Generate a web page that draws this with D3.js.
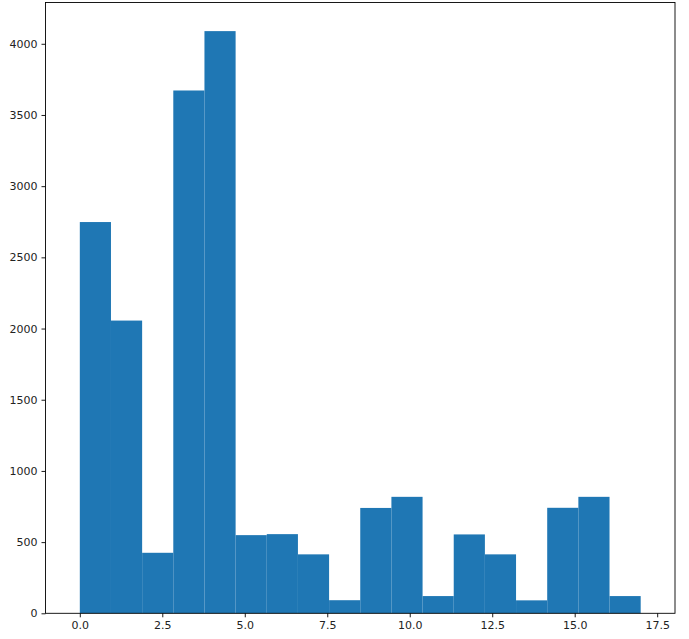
<!DOCTYPE html>
<html>
<head>
<meta charset="utf-8">
<script src="https://cdn.jsdelivr.net/npm/d3@7"></script>
<style>
    body { margin: 0; background: #fff; }
    text { font-family: "DejaVu Sans", sans-serif; }
</style>
</head>
<body>
<div id="chart-area"></div>
<script>
// histogram: 18 bins between 0 and 17
var binStart = 0;
var binEnd = 17;
var counts = [2748, 2056, 425, 3672, 4089, 549, 556, 414, 92, 740, 818, 121, 554, 414, 91, 741, 818, 121];
var xTicks = [0, 2.5, 5, 7.5, 10, 12.5, 15, 17.5];
var yTicks = [0, 500, 1000, 1500, 2000, 2500, 3000, 3500, 4000];

var W = 689;
var H = 639;
// note: "top" is window.top, so plot edges get their own names
var plotLeft = 45.5, plotRight = 675, plotTop = 2.5, plotBottom = 613.3;

var svg = d3.select("#chart-area")
    .append("svg")
    .attr("width", W)
    .attr("height", H);

var x = d3.scaleLinear()
    .domain([-1.04, 18.04])
    .range([plotLeft, plotRight]);

var y = d3.scaleLinear()
    .domain([0, 4290])
    .range([plotBottom, plotTop]);

var binW = (binEnd - binStart) / counts.length;
var bins = counts.map(function(c, i) {
    return { x0: binStart + i * binW, x1: binStart + (i + 1) * binW, count: c };
});

svg.selectAll("rect.bar")
    .data(bins)
    .enter()
    .append("rect")
    .attr("class", "bar")
    .attr("x", function(d) { return x(d.x0); })
    .attr("width", function(d) { return x(d.x1) - x(d.x0); })
    .attr("y", function(d) { return y(d.count); })
    .attr("height", function(d) { return y(0) - y(d.count); })
    .attr("fill", "#1f77b4");

var xAxisCall = d3.axisBottom(x)
    .tickValues(xTicks)
    .tickFormat(d3.format(".1f"))
    .tickSize(4)
    .tickPadding(4);

var yAxisCall = d3.axisLeft(y)
    .tickValues(yTicks)
    .tickFormat(d3.format("d"))
    .tickSize(4)
    .tickPadding(4);

var xAxisGroup = svg.append("g")
    .attr("transform", "translate(0," + plotBottom + ")")
    .call(xAxisCall);

var yAxisGroup = svg.append("g")
    .attr("transform", "translate(" + plotLeft + ",0)")
    .call(yAxisCall);

[xAxisGroup, yAxisGroup].forEach(function(g) {
    g.select(".domain").remove();
    g.selectAll("line").attr("stroke", "#000").attr("stroke-width", 0.9);
    g.selectAll("text").attr("font-size", "11px").attr("fill", "#222")
        .attr("font-family", "DejaVu Sans, sans-serif");
});

// frame
svg.append("rect")
    .attr("x", plotLeft)
    .attr("y", plotTop)
    .attr("width", plotRight - plotLeft)
    .attr("height", plotBottom - plotTop)
    .attr("fill", "none")
    .attr("stroke", "#000")
    .attr("stroke-width", 0.9);
</script>
</body>
</html>
